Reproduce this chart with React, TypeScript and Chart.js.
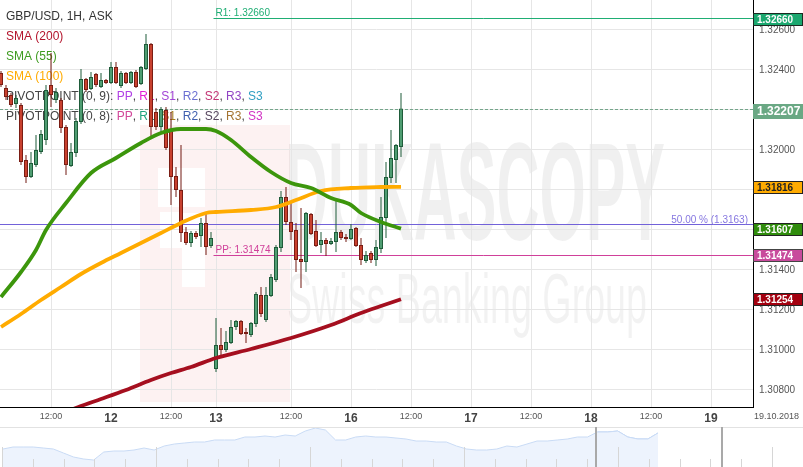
import React, { useEffect, useRef } from 'react';
import { Chart, registerables } from 'chart.js';

Chart.register(...registerables);

const FONT = '"Liberation Sans", Arial, Helvetica, sans-serif';

// GBP/USD hourly bars, oldest first
const opens = [
  1.32385, 1.3231, 1.32275, 1.3223, 1.32225, 1.3195, 1.31865, 1.31925, 1.3199, 1.3205,
  1.32325, 1.3225, 1.3225, 1.32115, 1.3192, 1.31985, 1.3214, 1.32355, 1.32305, 1.3238,
  1.32315, 1.3235, 1.32335, 1.32415, 1.3232, 1.32385, 1.32335, 1.3239, 1.3233, 1.32405,
  1.3253, 1.3219, 1.32115, 1.322, 1.321, 1.3187, 1.318, 1.3159, 1.31535, 1.31585,
  1.3157, 1.31635, 1.3152, 1.30905, 1.31025, 1.31, 1.31035, 1.31115, 1.31145, 1.3109,
  1.31075, 1.3113, 1.31275, 1.3115, 1.3127, 1.3135, 1.3151, 1.31765, 1.3164, 1.316,
  1.31455, 1.3144, 1.3168, 1.31595, 1.31525, 1.3155, 1.3153, 1.3154, 1.3159, 1.31565,
  1.31555, 1.3161, 1.31525, 1.31445, 1.31485, 1.3145, 1.31505, 1.3166, 1.3186, 1.3195,
  1.32015,
];
const highs = [
  1.32395, 1.32325, 1.32285, 1.32275, 1.32235, 1.31975, 1.3199, 1.32075, 1.321, 1.32325,
  1.32485, 1.3231, 1.3226, 1.32125, 1.32035, 1.3216, 1.32405, 1.3236, 1.3239, 1.32385,
  1.32385, 1.32355, 1.3244, 1.3244, 1.32395, 1.3239, 1.32395, 1.324, 1.3242, 1.3258,
  1.32535, 1.3221, 1.32215, 1.32215, 1.3219, 1.31915, 1.32025, 1.31615, 1.31595, 1.31595,
  1.3166, 1.3169, 1.3159, 1.3116, 1.3111, 1.31095, 1.3115, 1.3115, 1.3115, 1.3111,
  1.3114, 1.3129, 1.31315, 1.31315, 1.3138, 1.31525, 1.31795, 1.31815, 1.31735, 1.31635,
  1.3171, 1.3169, 1.31685, 1.3165, 1.3159, 1.3156, 1.3156, 1.3175, 1.316, 1.3158,
  1.3163, 1.31615, 1.3156, 1.31495, 1.31495, 1.3155, 1.31765, 1.3194, 1.321, 1.3203,
  1.32285,
];
const lows = [
  1.32315, 1.3225, 1.32215, 1.3221, 1.31925, 1.31835, 1.3186, 1.31915, 1.3198, 1.32025,
  1.32215, 1.32235, 1.32085, 1.31875, 1.31915, 1.31965, 1.3213, 1.3229, 1.323, 1.32315,
  1.3231, 1.3233, 1.3233, 1.3233, 1.3231, 1.3233, 1.3233, 1.3231, 1.32325, 1.324,
  1.32065, 1.321, 1.32085, 1.32, 1.31725, 1.31765, 1.3154, 1.31525, 1.31515, 1.31555,
  1.31515, 1.31475, 1.3151, 1.3089, 1.30975, 1.3099, 1.3103, 1.311, 1.31075, 1.31035,
  1.31065, 1.31115, 1.31165, 1.3114, 1.31265, 1.3134, 1.3149, 1.31625, 1.3155, 1.3139,
  1.3131, 1.3139, 1.31575, 1.31515, 1.31485, 1.3147, 1.31525, 1.3149, 1.3155, 1.3154,
  1.3155, 1.31515, 1.31425, 1.31435, 1.31435, 1.3142, 1.31485, 1.3156, 1.31835, 1.31835,
  1.31965,
];
const closes = [
  1.32325, 1.32265, 1.32225, 1.3226, 1.3194, 1.31865, 1.31935, 1.32, 1.3208, 1.323,
  1.32275, 1.3229, 1.3211, 1.31925, 1.3199, 1.32145, 1.32355, 1.323, 1.32365, 1.32325,
  1.3235, 1.32335, 1.32415, 1.32335, 1.32385, 1.32335, 1.3239, 1.32315, 1.32415, 1.3253,
  1.32115, 1.32115, 1.32205, 1.3201, 1.31865, 1.318, 1.31585, 1.31535, 1.31585, 1.31565,
  1.31635, 1.31515, 1.3156, 1.31025, 1.31, 1.3104, 1.31115, 1.31145, 1.3108, 1.3108,
  1.31135, 1.3128, 1.3118, 1.31275, 1.31365, 1.31515, 1.31765, 1.3164, 1.3159, 1.3145,
  1.3144, 1.31685, 1.3158, 1.3152, 1.3155, 1.3153, 1.31545, 1.3159, 1.3156, 1.31555,
  1.31605, 1.3152, 1.3145, 1.31475, 1.3145, 1.31515, 1.31665, 1.31865, 1.3196, 1.32025,
  1.32207,
];

// Moving averages: bar index -> value
const sma55Idx = [0, 4, 7, 9, 13, 18, 23, 28, 32, 36, 41, 43, 46, 50, 54, 58, 62, 66, 70, 72, 76, 80];
const sma55Val = [
  1.31265, 1.3139, 1.315, 1.316, 1.31735, 1.31885, 1.3196, 1.32035, 1.32085, 1.32105, 1.32105,
  1.32095, 1.3205, 1.31965, 1.3189, 1.31835, 1.3181, 1.3176, 1.31725, 1.31685, 1.3164, 1.31607,
];
const sma100Idx = [0, 4, 8, 12, 16, 20, 24, 28, 32, 36, 41, 43, 50, 55, 59, 64, 70, 76, 80];
const sma100Val = [
  1.31115, 1.3118, 1.3125, 1.31315, 1.3138, 1.31435, 1.31485, 1.31535, 1.31585, 1.31635,
  1.31685, 1.3169, 1.317, 1.31715, 1.3175, 1.31795, 1.3181, 1.31815, 1.31816,
];
const sma200Idx = [12, 16, 20, 25, 30, 34, 38, 43, 50, 58, 66, 72, 76, 80];
const sma200Val = [
  1.3068, 1.3072, 1.30755, 1.308, 1.3085, 1.30885, 1.30915, 1.3096, 1.31005, 1.3106, 1.31125,
  1.31185, 1.3122, 1.31254,
];

// Levels
const pivotR1 = 1.3266;
const pivotPP = 1.31474;
const fibHalf = 1.3163;
const lastPrice = 1.32207;
const weekStartIdx = 42.5; // first bar of the new week sits right after this

// Axis ticks
const priceTicks = [1.308, 1.31, 1.312, 1.314, 1.316, 1.318, 1.32, 1.322, 1.324, 1.326];
const timeTicks = [10, 22, 34, 43, 58, 70, 82, 94, 106, 118, 130, 142];
const timeTickLabels = ['12:00', '12', '12:00', '13', '12:00', '16', '12:00', '17', '12:00', '18', '12:00', '19'];
const dateStamp = '19.10.2018';

// Navigator history (relative level)
const navLevels = [
  18, 20, 20, 20, 19, 18, 14, 10, 8, 7, 15, 16, 16, 17, 19, 17, 21, 23, 24, 25, 25, 27, 27, 27, 30,
  30, 31, 30, 32, 31, 36, 39, 37, 27, 27, 30, 31, 30, 30, 29, 28, 26, 26, 25, 25, 21, 18, 17, 17, 18,
  21, 20, 23, 26, 26, 27, 28, 30, 30, 35, 35, 36, 30, 28, 28, 34,
];
const navSelFrom = 59;

type Seg = [string, string];
const GRAY = '#444';
const headerLines: Seg[][] = [
  [['GBP/USD, 1H, ASK', '#333']],
  [['SMA (200)', '#b3132b']],
  [['SMA (55)', '#3e9b1f']],
  [['SMA (100)', '#ffab00']],
  [
    ['PIVOTPOINT (0, 9): ', GRAY], ['PP', '#b13fe4'], [', ', GRAY], ['R1', '#e21fd8'], [', ', GRAY],
    ['S1', '#a244d6'], [', ', GRAY], ['R2', '#6a6fd2'], [', ', GRAY], ['S2', '#c23373'], [', ', GRAY],
    ['R3', '#9244c4'], [', ', GRAY], ['S3', '#2f9fc2'],
  ],
  [
    ['PIVOTPOINT (0, 8): ', GRAY], ['PP', '#d2479a'], [', ', GRAY], ['R1', '#21a57e'], [', ', GRAY],
    ['S1', '#a67c22'], [', ', GRAY], ['R2', '#3f5eaf'], [', ', GRAY], ['S2', '#56455e'], [', ', GRAY],
    ['R3', '#a47432'], [', ', GRAY], ['S3', '#d232c4'],
  ],
];

const last = (a: number[]) => a[a.length - 1];

export default function App() {
  const mainRef = useRef<HTMLCanvasElement>(null);
  const navRef = useRef<HTMLCanvasElement>(null);

  useEffect(() => {
    const idx = opens.map((_, i) => i);
    const up = idx.map((i) => closes[i] >= opens[i]);

    const overlay = {
      id: 'fxOverlay',
      beforeDraw(chart: any) {
        const { ctx, chartArea: a } = chart;
        ctx.save();
        ctx.beginPath();
        ctx.rect(a.left, a.top, a.right - a.left, a.bottom - a.top);
        ctx.clip();
        // logo block
        ctx.fillStyle = 'rgba(225, 70, 70, 0.07)';
        ctx.fillRect(140, 125, 150, 277);
        ctx.fillStyle = '#fff';
        ctx.fillRect(158, 168, 47, 39);
        ctx.fillRect(160, 212, 22, 36);
        ctx.fillRect(182, 213, 23, 74);
        // brand lettering
        ctx.fillStyle = 'rgba(0,0,0,0.06)';
        ctx.font = `bold 140px ${FONT}`;
        ctx.textBaseline = 'alphabetic';
        let w = ctx.measureText('DUKASCOPY').width;
        ctx.save();
        ctx.translate(285, 240);
        ctx.scale(380 / w, 1);
        ctx.fillText('DUKASCOPY', 0, 0);
        ctx.restore();
        ctx.fillStyle = 'rgba(0,0,0,0.05)';
        ctx.font = `70px ${FONT}`;
        w = ctx.measureText('Swiss Banking Group').width;
        ctx.save();
        ctx.translate(287, 323);
        ctx.scale(360 / w, 1);
        ctx.fillText('Swiss Banking Group', 0, 0);
        ctx.restore();
        ctx.restore();
      },
      beforeDatasetsDraw(chart: any) {
        const { ctx, chartArea: a, scales } = chart;
        const xs = scales.x;
        const ys = scales.y;
        ctx.save();
        ctx.beginPath();
        ctx.rect(a.left, a.top, a.right - a.left, a.bottom - a.top);
        ctx.clip();

        // header legend
        ctx.font = `12px ${FONT}`;
        ctx.textBaseline = 'alphabetic';
        ctx.textAlign = 'left';
        headerLines.forEach((segs, li) => {
          let x = 6;
          const y = 20 + li * 20;
          segs.forEach(([t, c]) => {
            ctx.fillStyle = c;
            ctx.fillText(t, x, y);
            x += ctx.measureText(t).width;
          });
        });

        const hline = (v: number, x0: number, color: string, dash: number[] = []) => {
          const y = Math.round(ys.getPixelForValue(v)) + 0.5;
          ctx.beginPath();
          ctx.setLineDash(dash);
          ctx.strokeStyle = color;
          ctx.lineWidth = 1;
          ctx.moveTo(x0, y);
          ctx.lineTo(a.right, y);
          ctx.stroke();
          ctx.setLineDash([]);
          return y;
        };

        const xWeek = xs.getPixelForValue(weekStartIdx);
        // last price
        hline(lastPrice, a.left, '#74a58b', [3, 2]);
        // 50% retracement
        const yF = hline(fibHalf, a.left, '#7262d9');
        ctx.font = `10px ${FONT}`;
        ctx.fillStyle = '#8677e0';
        ctx.textAlign = 'right';
        ctx.fillText(`50.00 % (${fibHalf.toFixed(4)})`, a.right - 5, yF - 2);
        // pivot levels
        ctx.textAlign = 'left';
        ctx.font = `10px ${FONT}`;
        const yR = hline(pivotR1, xWeek, '#1fae74');
        ctx.fillStyle = '#1fae74';
        ctx.fillText(`R1: ${pivotR1.toFixed(5)}`, xWeek + 2, yR - 3);
        const yP = hline(pivotPP, xWeek, '#d0409a');
        ctx.fillStyle = '#d0409a';
        ctx.fillText(`PP: ${pivotPP.toFixed(5)}`, xWeek + 2, yP - 3);
        ctx.restore();
      },
      afterDraw(chart: any) {
        const { ctx, chartArea: a, scales } = chart;
        const ys = scales.y;
        const boxes = [
          { v: pivotR1, bg: '#1ba86f', fg: '#fff', bd: '#1c2a22', size: 10, h: 13, dy: 1 },
          { v: lastPrice, bg: '#6aa884', fg: '#fff', bd: '', size: 12, h: 15, dy: 2 },
          { v: last(sma100Val), bg: '#ffab00', fg: '#222', bd: '#222', size: 10, h: 13, dy: 0 },
          { v: last(sma55Val), bg: '#2f8c0c', fg: '#fff', bd: '#222', size: 10, h: 13, dy: 0 },
          { v: pivotPP, bg: '#c84b9c', fg: '#fff', bd: '#444', size: 10, h: 13, dy: 0 },
          { v: last(sma200Val), bg: '#a3000f', fg: '#fff', bd: '#222', size: 10, h: 13, dy: 0 },
        ];
        ctx.save();
        boxes.forEach((b) => {
          const yc = Math.round(ys.getPixelForValue(b.v)) + b.dy;
          const top = yc - Math.floor(b.h / 2);
          ctx.fillStyle = b.bg;
          ctx.fillRect(a.right, top, 50, b.h);
          if (b.bd) {
            ctx.strokeStyle = b.bd;
            ctx.lineWidth = 1;
            ctx.strokeRect(a.right + 0.5, top + 0.5, 49, b.h - 1);
          }
          ctx.fillStyle = b.fg;
          ctx.font = `bold ${b.size}px ${FONT}`;
          ctx.textAlign = 'left';
          ctx.textBaseline = 'middle';
          ctx.fillText(b.v.toFixed(5), a.right + 4, top + b.h / 2 + 0.5);
        });
        ctx.fillStyle = '#555';
        ctx.font = `9px ${FONT}`;
        ctx.textBaseline = 'middle';
        ctx.fillText(dateStamp, a.right + 1, a.bottom + 10);
        ctx.restore();
      },
    };

    const main = new Chart(mainRef.current!, {
      type: 'bar',
      data: {
        datasets: [
          {
            type: 'line',
            label: 'SMA (200)',
            data: sma200Idx.map((x, i) => ({ x, y: sma200Val[i] })),
            borderColor: '#a50f1f',
            borderWidth: 3.8,
            pointRadius: 0,
            cubicInterpolationMode: 'monotone',
            clip: 0,
            order: 0,
          },
          {
            type: 'line',
            label: 'SMA (55)',
            data: sma55Idx.map((x, i) => ({ x, y: sma55Val[i] })),
            borderColor: '#3c960c',
            borderWidth: 3.8,
            pointRadius: 0,
            cubicInterpolationMode: 'monotone',
            clip: 0,
            order: 0,
          },
          {
            type: 'line',
            label: 'SMA (100)',
            data: sma100Idx.map((x, i) => ({ x, y: sma100Val[i] })),
            borderColor: '#ffab00',
            borderWidth: 3.8,
            pointRadius: 0,
            cubicInterpolationMode: 'monotone',
            clip: 0,
            order: 0,
          },
          {
            type: 'bar',
            label: 'wick',
            data: idx.map((i) => ({ x: i, y: [lows[i], highs[i]] })),
            backgroundColor: idx.map((i) => (up[i] ? '#1f5c3a' : '#721a12')),
            barThickness: 1,
            grouped: false,
            inflateAmount: 0,
            borderWidth: 0,
            order: 2,
          },
          {
            type: 'bar',
            label: 'body',
            data: idx.map((i) => ({ x: i, y: [opens[i], closes[i]] })),
            backgroundColor: idx.map((i) => (up[i] ? '#4f9d72' : '#c8412f')),
            borderColor: idx.map((i) => (up[i] ? '#1f5c3a' : '#7a1d14')),
            borderWidth: 1,
            borderSkipped: false,
            barThickness: 4,
            grouped: false,
            inflateAmount: 0,
            order: 1,
          },
        ] as any,
      },
      options: {
        responsive: false,
        animation: false,
        devicePixelRatio: 1,
        events: [],
        layout: { padding: 0, autoPadding: false } as any,
        plugins: { legend: { display: false }, tooltip: { enabled: false } },
        scales: {
          x: {
            type: 'linear',
            min: -0.2,
            max: 150.4,
            offset: false,
            grid: { color: '#e6e6e6', drawTicks: false, offset: false },
            border: { color: '#000', width: 1 },
            afterBuildTicks: (s: any) => {
              s.ticks = timeTicks.map((v) => ({ value: v }));
            },
            afterFit: (s: any) => {
              s.height = 20;
              s.paddingLeft = 0;
              s.paddingRight = 0;
            },
            ticks: {
              autoSkip: false,
              maxRotation: 0,
              padding: 4,
              callback: (_v: any, i: number) => timeTickLabels[i],
              font: (c: any) =>
                timeTickLabels[c.index] && timeTickLabels[c.index].includes(':')
                  ? { family: FONT, size: 9 }
                  : { family: FONT, size: 12, weight: 'bold' },
              color: (c: any) =>
                timeTickLabels[c.index] && timeTickLabels[c.index].includes(':') ? '#555' : '#444',
            },
          } as any,
          y: {
            type: 'linear',
            position: 'right',
            min: 1.30715,
            max: 1.3275,
            grid: { color: '#e6e6e6', drawTicks: false },
            border: { color: '#000', width: 1 },
            afterBuildTicks: (s: any) => {
              s.ticks = priceTicks.map((v) => ({ value: v }));
            },
            afterFit: (s: any) => {
              s.width = 50;
              s.paddingTop = 0;
              s.paddingBottom = 0;
            },
            ticks: {
              padding: 6,
              color: '#555',
              font: { family: FONT, size: 10 },
              callback: (v: any) => Number(v).toFixed(5),
            },
          } as any,
        },
      },
      plugins: [overlay],
    });

    const navPlugin = {
      id: 'navDecor',
      afterDatasetsDraw(chart: any) {
        const { ctx, width, height } = chart;
        ctx.save();
        ctx.fillStyle = '#d6d6d6';
        for (let i = 0; i * 30.8 + 2 < width; i++) {
          const x = Math.round(2 + i * 30.8);
          const tall = i % 5 === 0;
          ctx.fillRect(x, tall ? 20 : 32, 1, height);
        }
        ctx.fillStyle = '#e2e2e2';
        ctx.fillRect(0, 0, width, 1);
        ctx.fillStyle = '#a9a9a9';
        ctx.fillRect(595, 0, 2, height);
        ctx.fillRect(721, 0, 2, height);
        ctx.restore();
      },
    };

    const navPts = navLevels.map((v, i) => ({ x: i, y: v }));
    const nav = new Chart(navRef.current!, {
      type: 'line',
      data: {
        datasets: [
          {
            data: navPts,
            fill: 'start',
            backgroundColor: '#edf3fd',
            borderColor: '#c9dbf5',
            borderWidth: 1,
            pointRadius: 0,
            tension: 0,
          },
          {
            data: navPts.filter((p) => p.x >= navSelFrom),
            fill: 'start',
            backgroundColor: '#dce8fb',
            borderColor: '#b3cbf1',
            borderWidth: 1,
            pointRadius: 0,
            tension: 0,
          },
        ],
      },
      options: {
        responsive: false,
        animation: false,
        devicePixelRatio: 1,
        events: [],
        layout: { padding: 0, autoPadding: false } as any,
        plugins: { legend: { display: false }, tooltip: { enabled: false } },
        scales: {
          x: { type: 'linear', min: -0.298, max: 79.39, display: false },
          y: { type: 'linear', min: 0, max: 40, display: false },
        },
      },
      plugins: [navPlugin],
    });

    return () => {
      main.destroy();
      nav.destroy();
    };
  }, []);

  return (
    <div style={{ position: 'fixed', left: 0, top: 0, width: 803, height: 467, background: '#fff' }}>
      <canvas ref={mainRef} width={803} height={427} style={{ display: 'block', width: 803, height: 427 }} />
      <canvas ref={navRef} width={803} height={40} style={{ display: 'block', width: 803, height: 40 }} />
    </div>
  );
}
